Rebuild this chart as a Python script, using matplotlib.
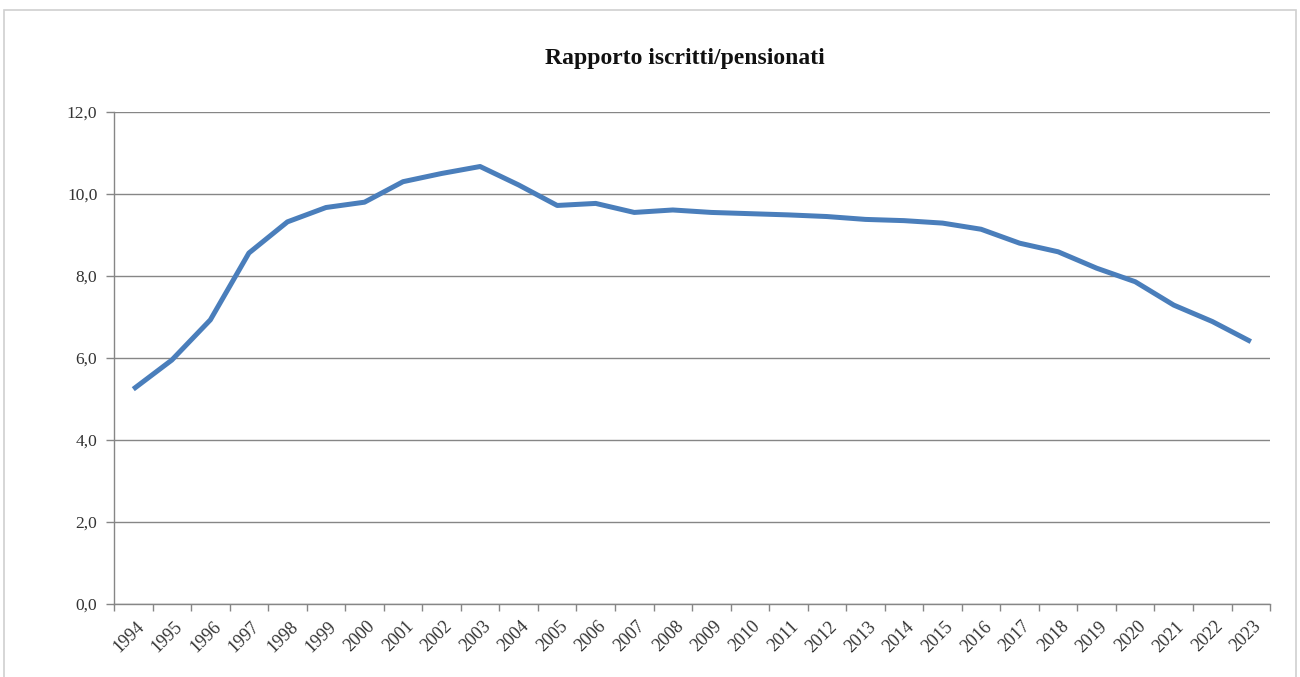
import matplotlib.pyplot as plt
from matplotlib import transforms
from matplotlib.patches import Rectangle
from matplotlib.ticker import FuncFormatter, FixedLocator

# Rapporto iscritti/pensionati, 1994-2023
years = list(range(1994, 2024))
ratio = [5.24, 5.95, 6.93, 8.56, 9.32, 9.67, 9.80, 10.30, 10.50, 10.67,
         10.22, 9.72, 9.77, 9.55, 9.61, 9.55, 9.52, 9.49, 9.45, 9.38,
         9.35, 9.29, 9.14, 8.80, 8.59, 8.19, 7.86, 7.29, 6.89, 6.40]
title = "Rapporto iscritti/pensionati"
yticks = [0, 2, 4, 6, 8, 10, 12]

LINE = "#4a7ebb"
GRID = "#868686"
SERIF = ["Liberation Serif", "DejaVu Serif"]

fig = plt.figure(figsize=(13, 6.77), dpi=100)
fig.patches.append(Rectangle((0.003, -0.01), 0.994, 0.995, transform=fig.transFigure,
                             fill=False, edgecolor="#d0d0d0", lw=1.2))

ax = fig.add_axes([0.0877, 0.1078, 0.8893, 0.7268])
x = list(range(len(years)))
ax.plot(x, ratio, color=LINE, lw=3.6, solid_capstyle="butt", solid_joinstyle="round")

ax.set_xlim(-0.5, len(years) - 0.5)
ax.set_ylim(0, 12)

# category axis: ticks between categories, labels at centres
ax.xaxis.set_major_locator(FixedLocator([i - 0.5 for i in range(len(years) + 1)]))
ax.xaxis.set_major_formatter(FuncFormatter(lambda v, p: ""))
ax.set_xticks(x, [str(y) for y in years], minor=True)
ax.tick_params(axis="x", which="major", length=5, color=GRID, width=1, direction="out")
ax.tick_params(axis="x", which="minor", length=0, pad=10)
shift = transforms.ScaledTranslation(0.02, 0, fig.dpi_scale_trans)
for lab in ax.get_xticklabels(minor=True):
    lab.set_rotation(45)
    lab.set_ha("right")
    lab.set_va("top")
    lab.set_rotation_mode("anchor")
    lab.set_fontfamily(SERIF)
    lab.set_fontsize(13)
    lab.set_color("#333333")
    lab.set_transform(lab.get_transform() + shift)

ax.set_yticks(yticks)
ax.yaxis.set_major_formatter(FuncFormatter(lambda v, p: f"{v:.1f}".replace(".", ",")))
ax.tick_params(axis="y", length=6, color=GRID, width=1, direction="out", pad=6)
for lab in ax.get_yticklabels():
    lab.set_fontfamily(SERIF)
    lab.set_fontsize(12.5)
    lab.set_color("#333333")

ax.grid(axis="y", color=GRID, lw=1)
ax.set_axisbelow(True)
for side in ("top", "right"):
    ax.spines[side].set_visible(False)
for side in ("left", "bottom"):
    ax.spines[side].set_color(GRID)
    ax.spines[side].set_linewidth(1)

fig.text(0.527, 0.914, title, ha="center", va="center", fontfamily=SERIF,
         fontsize=17, fontweight="bold", color="#111111")

fig.savefig("out.png", dpi=100)
